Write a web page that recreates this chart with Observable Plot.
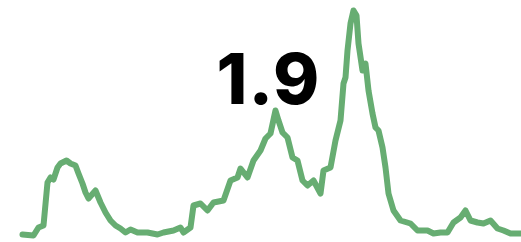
<!DOCTYPE html>
<html><head><meta charset="utf-8">
<script src="https://cdn.jsdelivr.net/npm/d3@7"></script>
<script src="https://cdn.jsdelivr.net/npm/@observablehq/plot@0.6"></script>
<style>html,body{margin:0;padding:0;background:#fff;} .big text{letter-spacing:1px;}</style>
</head><body><div id="chart"></div>
<script>
const days = [0,11,16,21,25,28,31,35,38,44,48,53,56,60,63,66,73,78,83,88,93,98,103,108,115,125,135,141,151,158,161,168,171,178,185,191,201,208,215,218,225,231,238,243,248,253,256,260,265,270,275,280,285,291,298,301,308,313,318,321,323,325,328,331,334,336,340,343,346,350,353,356,360,363,366,371,378,388,395,405,411,418,425,431,438,443,448,455,461,468,475,481,488,499];
const values = [2,1,9,11,54,59,57,69,73,76,73,71,63,53,44,38,46,34,24,16,11,8,4,7,4,4,2,4,6,9,4,9,31,33,26,34,36,56,59,68,59,76,86,98,103,126,116,104,99,79,76,56,51,56,43,66,69,96,116,153,159,186,213,226,221,193,166,173,146,123,109,106,89,69,43,26,16,13,6,6,3,4,4,14,19,26,16,14,13,16,8,6,3,3];
const labels = ["1.9"];
const data = days.map((d,i)=>({day:d, value:values[i]}));
const chart = Plot.plot({
  width: 521, height: 242,
  marginLeft: 22, marginRight: 0, marginTop: 10, marginBottom: 6,
  x: {domain: [0, 499], axis: null},
  y: {domain: [0, 226], axis: null},
  marks: [
    Plot.line(data, {x: "day", y: "value", stroke: "#67ad72", strokeWidth: 6, strokeLinejoin: "round", strokeLinecap: "round"}),
    Plot.text(labels, {text: d => d, frameAnchor: "top-left", textAnchor: "start", lineAnchor: "top", dx: 194, dy: 44, fontSize: 70, fontWeight: 800, fontFamily: "Inter", fill: "#000", className: "big"})
  ]
});
document.getElementById("chart").appendChild(chart);
</script></body></html>
